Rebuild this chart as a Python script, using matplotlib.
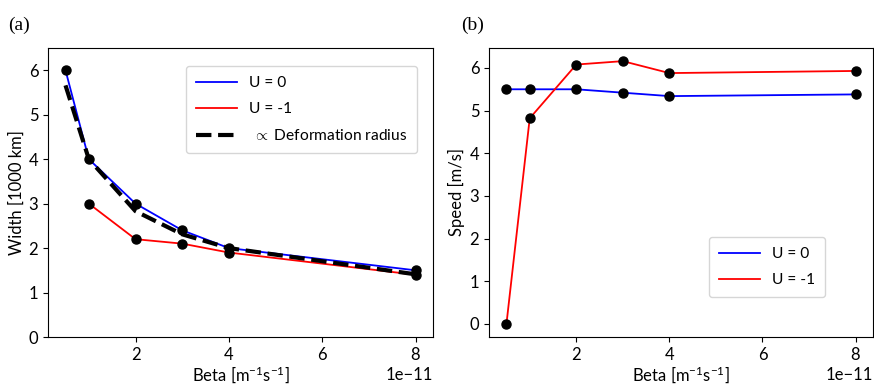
import matplotlib
matplotlib.use("Agg")
import matplotlib.pyplot as plt

plt.rcParams['font.family'] = ['Lato', 'DejaVu Sans']
plt.rcParams['mathtext.fontset'] = 'custom'
plt.rcParams['mathtext.rm'] = 'Lato'
plt.rcParams['mathtext.it'] = 'Lato:italic'
plt.rcParams['font.size'] = 12

beta = [0.5e-11, 1e-11, 2e-11, 3e-11, 4e-11, 8e-11]
beta_u1 = [1e-11, 2e-11, 3e-11, 4e-11, 8e-11]

width_u0 = [6.0, 4.0, 3.0, 2.4, 2.0, 1.5]
width_u1 = [3.0, 2.2, 2.1, 1.9, 1.4]
width_def = [5.66, 4.0, 2.83, 2.31, 2.0, 1.41]

speed_u0 = [5.5, 5.5, 5.5, 5.42, 5.34, 5.38]
speed_u1 = [0.0, 4.82, 6.08, 6.16, 5.88, 5.93]

fig = plt.figure(figsize=(8.74, 3.87), dpi=100)
ax1 = fig.add_axes([48/874, 1-337/387, 385/874, 289/387])
ax2 = fig.add_axes([489/874, 1-337/387, 384/874, 289/387])

# (a)
ax1.plot(beta, width_u0, color='blue', lw=1.3, label='U = 0')
ax1.plot(beta_u1, width_u1, color='red', lw=1.3, label='U = -1')
ax1.plot(beta, width_def, color='black', lw=3, ls='--', label=r' $\propto$ Deformation radius')
ax1.plot(beta, width_u0, 'o', color='black', ms=6.5, zorder=3)
ax1.plot(beta_u1, width_u1, 'o', color='black', ms=6.5, zorder=3)
ax1.set_ylim(0, 6.5)
ax1.set_ylabel('Width [1000 km]', labelpad=3)
ax1.set_xlabel(r'Beta [m$^{-1}$s$^{-1}$]', labelpad=1)
ax1.legend(loc='upper left', bbox_to_anchor=((186-48)/385, (337-66)/289), borderaxespad=0,
           handlelength=2.6, borderpad=0.65, labelspacing=0.78, fontsize=11.2)

# (b)
ax2.plot(beta, speed_u0, color='blue', lw=1.3, label='U = 0')
ax2.plot(beta, speed_u1, color='red', lw=1.3, label='U = -1')
ax2.plot(beta, speed_u0, 'o', color='black', ms=6.5, zorder=3)
ax2.plot(beta, speed_u1, 'o', color='black', ms=6.5, zorder=3)
ax2.set_ylabel('Speed [m/s]', labelpad=3)
ax2.set_xlabel(r'Beta [m$^{-1}$s$^{-1}$]', labelpad=1)
ax2.legend(loc='upper left', bbox_to_anchor=((709-489)/384, (337-237)/289), borderaxespad=0,
           handlelength=2.6, borderpad=0.65, labelspacing=0.78, fontsize=11.2)

for ax in (ax1, ax2):
    ax.set_xticks([2e-11, 4e-11, 6e-11, 8e-11])

fig.text(8/874, 1-30/387, '(a)', family='Liberation Serif', fontsize=14)
fig.text(461/874, 1-30/387, '(b)', family='Liberation Serif', fontsize=14)

fig.savefig('out.png', dpi=100)
